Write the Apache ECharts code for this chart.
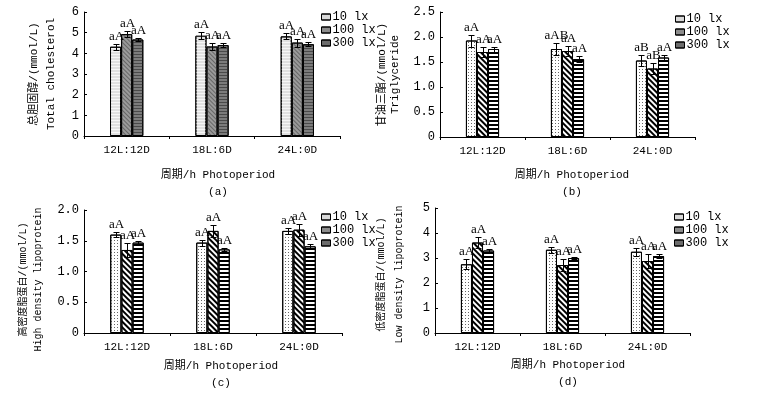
<!DOCTYPE html>
<html>
<head>
<meta charset="utf-8">
<script src="https://cdn.jsdelivr.net/npm/echarts@6/dist/echarts.min.js"></script>
<style>
  html, body { margin: 0; padding: 0; background: #fff; }
  #main { width: 780px; height: 397px; }
</style>
</head>
<body>
<div id="main"></div>
<script>
// categories and groups
const periods = ['12L:12D', '18L:6D', '24L:0D'];
const lights = ['10 lx', '100 lx', '300 lx'];

// (a) total cholesterol
const tcMean10 = [4.32, 4.85, 4.82];
const tcMean100 = [4.93, 4.33, 4.52];
const tcMean300 = [4.67, 4.40, 4.44];
const tcErr10 = [0.15, 0.16, 0.15];
const tcErr100 = [0.15, 0.18, 0.19];
const tcErr300 = [0.07, 0.09, 0.09];
const tcMark10 = ['aA', 'aA', 'aA'];
const tcMark100 = ['aA', 'aA', 'aA'];
const tcMark300 = ['aA', 'aA', 'aA'];
const tcTicks = ['0', '1', '2', '3', '4', '5', '6'];

// (b) triglyceride
const tgMean10 = [1.93, 1.76, 1.53];
const tgMean100 = [1.70, 1.72, 1.37];
const tgMean300 = [1.76, 1.56, 1.59];
const tgErr10 = [0.12, 0.12, 0.11];
const tgErr100 = [0.10, 0.10, 0.10];
const tgErr300 = [0.05, 0.06, 0.06];
const tgMark10 = ['aA', 'aAB', 'aB'];
const tgMark100 = ['aA', 'aA', 'aB'];
const tgMark300 = ['aA', 'aA', 'aA'];
const tgTicks = ['0', '0.5', '1.0', '1.5', '2.0', '2.5'];

// (c) high density lipoprotein
const hdlMean10 = [1.60, 1.47, 1.66];
const hdlMean100 = [1.35, 1.66, 1.68];
const hdlMean300 = [1.47, 1.36, 1.41];
const hdlErr10 = [0.04, 0.05, 0.05];
const hdlErr100 = [0.11, 0.10, 0.10];
const hdlErr300 = [0.02, 0.03, 0.03];
const hdlMark10 = ['aA', 'aA', 'aA'];
const hdlMark100 = ['aA', 'aA', 'aA'];
const hdlMark300 = ['aA', 'aA', 'aA'];
const hdlTicks = ['0', '0.5', '1.0', '1.5', '2.0'];

// (d) low density lipoprotein
const ldlMean10 = [2.75, 3.33, 3.25];
const ldlMean100 = [3.62, 2.72, 2.88];
const ldlMean300 = [3.30, 3.00, 3.08];
const ldlErr10 = [0.20, 0.13, 0.17];
const ldlErr100 = [0.22, 0.25, 0.27];
const ldlErr300 = [0.07, 0.05, 0.08];
const ldlMark10 = ['aA', 'aA', 'aA'];
const ldlMark100 = ['aA', 'aA', 'aA'];
const ldlMark300 = ['aA', 'aA', 'aA'];
const ldlTicks = ['0', '1', '2', '3', '4', '5'];

const MONO = '"Liberation Mono", "Noto Sans CJK SC", monospace';
const SERIF = '"Liberation Serif", serif';

// bar fills
const hStripe = (c, w, g) => ({ symbol: 'rect', symbolSize: 1, dashArrayX: [1, 0], dashArrayY: [w, g], rotation: 0, color: c });
const dStripe = (c, w, g) => ({ symbol: 'rect', symbolSize: 1, dashArrayX: [1, 0], dashArrayY: [w, g], rotation: Math.PI / 4, color: c });
const dotFill = { symbol: 'rect', symbolSize: 1, dashArrayX: [1, 2], dashArrayY: [1, 2], rotation: 0, color: '#666' };

const grayStyles = [
  { color: '#e0e0e0', decal: hStripe('#f6f6f6', 1, 2) },
  { color: '#9a9a9a', decal: dStripe('#666', 1, 1.5) },
  { color: '#7c7c7c', decal: hStripe('#4a4a4a', 1, 2) }
];
const patternStyles = [
  { color: '#fff', decal: dotFill },
  { color: '#fff', decal: dStripe('#000', 1.3, 1.7) },
  { color: '#fff', decal: hStripe('#000', 1.5, 1.5) }
];
const legendColors = ['#d9d9d9', '#8c8c8c', '#6c6c6c'];

const panels = [
  { means: [tcMean10, tcMean100, tcMean300], errs: [tcErr10, tcErr100, tcErr300], marks: [tcMark10, tcMark100, tcMark300],
    ticks: tcTicks, yName: '总胆固醇/(mmol/L)\nTotal cholesterol', tag: '(a)', styles: grayStyles,
    grid: { left: 84, top: 12, width: 256, height: 124 }, yGap: 24, yLine: 17, yFont: 11, yPad: 0,
    xPad: 12, xGap: 31, legend: { left: 316, top: 6 } },
  { means: [tgMean10, tgMean100, tgMean300], errs: [tgErr10, tgErr100, tgErr300], marks: [tgMark10, tgMark100, tgMark300],
    ticks: tgTicks, yName: '甘油三酯/(mmol/L)\nTriglyceride', tag: '(b)', styles: patternStyles,
    grid: { left: 440, top: 12, width: 255, height: 125 }, yGap: 38, yLine: 13, yFont: 11, yPad: 0,
    xPad: 9, xGap: 30, legend: { left: 670, top: 8 } },
  { means: [hdlMean10, hdlMean100, hdlMean300], errs: [hdlErr10, hdlErr100, hdlErr300], marks: [hdlMark10, hdlMark100, hdlMark300],
    ticks: hdlTicks, yName: '高密度脂蛋白/(mmol/L)\nHigh density lipoprotein', tag: '(c)', styles: patternStyles,
    grid: { left: 84, top: 210, width: 258, height: 123 }, yGap: 38, yLine: 15, yFont: 10, yPad: 16,
    xPad: 16, xGap: 25, legend: { left: 316, top: 206 } },
  { means: [ldlMean10, ldlMean100, ldlMean300], errs: [ldlErr10, ldlErr100, ldlErr300], marks: [ldlMark10, ldlMark100, ldlMark300],
    ticks: ldlTicks, yName: '低密度脂蛋白/(mmol/L)\nLow density lipoprotein', tag: '(d)', styles: patternStyles,
    grid: { left: 435, top: 208, width: 255, height: 125 }, yGap: 27, yLine: 18, yFont: 10, yPad: 8,
    xPad: 11, xGap: 24, legend: { left: 669, top: 206 } }
];

const grids = [], xAxes = [], yAxes = [], legends = [], series = [];

panels.forEach((p, pi) => {
  grids.push(Object.assign({ outerBoundsMode: 'none', containLabel: false }, p.grid));

  xAxes.push({
    type: 'category', gridIndex: pi, data: periods,
    axisLine: { lineStyle: { color: '#000', width: 1 } },
    axisTick: { show: true, alignWithLabel: false, length: 3, lineStyle: { color: '#000' } },
    axisLabel: { color: '#000', fontFamily: MONO, fontSize: 11, margin: 9 },
    splitLine: { show: false },
    name: '周期/h Photoperiod\n' + p.tag, nameLocation: 'middle', nameGap: p.xGap,
    nameTextStyle: { color: '#000', fontFamily: MONO, fontSize: 11, lineHeight: 17, padding: [0, 0, 0, p.xPad] }
  });

  const step = Number(p.ticks[1]);
  yAxes.push({
    type: 'value', gridIndex: pi, min: 0, max: Number(p.ticks[p.ticks.length - 1]), interval: step,
    axisLine: { show: true, lineStyle: { color: '#000', width: 1 } },
    axisTick: { show: true, inside: true, length: 3, lineStyle: { color: '#000' } },
    axisLabel: { color: '#000', fontFamily: MONO, fontSize: 12, margin: 5,
      formatter: (v) => p.ticks[Math.round(v / step)] },
    splitLine: { show: false },
    name: p.yName, nameLocation: 'middle', nameRotate: 90, nameGap: p.yGap,
    nameTextStyle: { color: '#000', fontFamily: MONO, fontSize: p.yFont, lineHeight: p.yLine,
      padding: [0, p.yPad, 0, 0] }
  });

  legends.push({
    orient: 'vertical', left: p.legend.left, top: p.legend.top, icon: 'rect',
    itemWidth: 9, itemHeight: 6, itemGap: 1, selectedMode: false,
    textStyle: { color: '#000', fontFamily: MONO, fontSize: 12, padding: [0, 0, 0, -3] },
    data: lights.map((n, k) => ({
      name: n,
      itemStyle: { color: legendColors[k], borderColor: '#000', borderWidth: 1,
        decal: { symbol: 'rect', color: 'rgba(0,0,0,0)', dashArrayX: 5, dashArrayY: 5 } }
    }))
  });

  lights.forEach((n, k) => {
    series.push({
      type: 'bar', name: n, xAxisIndex: pi, yAxisIndex: pi,
      data: p.means[k], barGap: '0%', barCategoryGap: '61%',
      itemStyle: { color: p.styles[k].color, decal: p.styles[k].decal, borderColor: '#000', borderWidth: 1 },
      emphasis: { disabled: true }
    });
  });

  const items = [];
  periods.forEach((c, ci) => {
    lights.forEach((n, k) => {
      items.push({ cat: ci, k: k, val: p.means[k][ci], err: p.errs[k][ci], mark: p.marks[k][ci] });
    });
  });

  series.push({
    type: 'custom', xAxisIndex: pi, yAxisIndex: pi, z: 10, silent: true,
    data: items.map((it) => [it.cat, it.val + it.err]),
    renderItem: function (params, api) {
      const it = items[params.dataIndex];
      const base = api.coord([it.cat, it.val]);
      const band = api.size([1, 0])[0];
      const bw = band * 0.39 / 3;
      const x = Math.round(base[0] + (it.k - 1) * bw) + 0.5;
      const yt = Math.round(api.coord([it.cat, it.val + it.err])[1]) + 0.5;
      const yb = Math.round(api.coord([it.cat, it.val - it.err])[1]) + 0.5;
      const st = { stroke: '#000', lineWidth: 1 };
      return {
        type: 'group',
        children: [
          { type: 'line', shape: { x1: x, y1: yt, x2: x, y2: yb }, style: st },
          { type: 'line', shape: { x1: x - 3, y1: yt, x2: x + 3, y2: yt }, style: st },
          { type: 'line', shape: { x1: x - 3, y1: yb, x2: x + 3, y2: yb }, style: st },
          { type: 'text', x: x, y: yt - 1,
            style: { text: it.mark, textAlign: 'center', textVerticalAlign: 'bottom',
              font: '13px ' + SERIF, fill: '#000' } }
        ]
      };
    }
  });
});

const chart = echarts.init(document.getElementById('main'), null, { renderer: 'canvas' });
chart.setOption({
  animation: false,
  backgroundColor: '#fff',
  grid: grids,
  xAxis: xAxes,
  yAxis: yAxes,
  legend: legends,
  series: series
});
</script>
</body>
</html>
